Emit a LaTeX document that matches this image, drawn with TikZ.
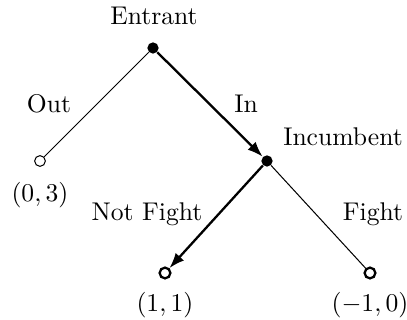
\documentclass[tikz,border=0pt]{standalone}
\usetikzlibrary{arrows.meta}
\begin{document}
\begin{tikzpicture}[x=0.3906pt,y=-0.3906pt,
  decision/.style={circle,fill=black,inner sep=0pt,minimum size=4.4pt},
  leafthin/.style={circle,draw=black,fill=white,line width=0.4pt,inner sep=0pt,minimum size=4.2pt},
  leafthick/.style={circle,draw=black,fill=white,line width=0.9pt,inner sep=0pt,minimum size=4.2pt},
  thinedge/.style={line width=0.4pt},
  chosen/.style={line width=0.9pt,-{Latex[length=6pt,width=4.4pt]}},
  lbl/.style={anchor=base,inner sep=0pt}]
\useasboundingbox (0,0) rectangle (407,320);
\node[decision] (E) at (153,48) {};
\node[decision] (I) at (267,161) {};
\node[leafthin] (L) at (40,161) {};
\node[leafthick] (NF) at (165,273) {};
\node[leafthick] (F) at (370,273) {};
\draw[thinedge] (E) -- (L);
\draw[chosen] (E) -- (I);
\draw[chosen] (I) -- (NF);
\draw[thinedge] (I) -- (F);
\node[lbl] (tE) at (154,25) {Entrant};
\node[lbl] (tI) at (343,146) {Incumbent};
\node[lbl] (tOut) at (49,113) {Out};
\node[lbl] (tIn) at (246,113) {In};
\node[lbl] (tNF) at (147,221) {Not Fight};
\node[lbl] (tF) at (373,221) {Fight};
\node[lbl] (pL) at (40,202) {$(0,3)$};
\node[lbl] (pNF) at (165,312) {$(1,1)$};
\node[lbl] (pF) at (370,312) {$(-1,0)$};
\end{tikzpicture}
\end{document}
